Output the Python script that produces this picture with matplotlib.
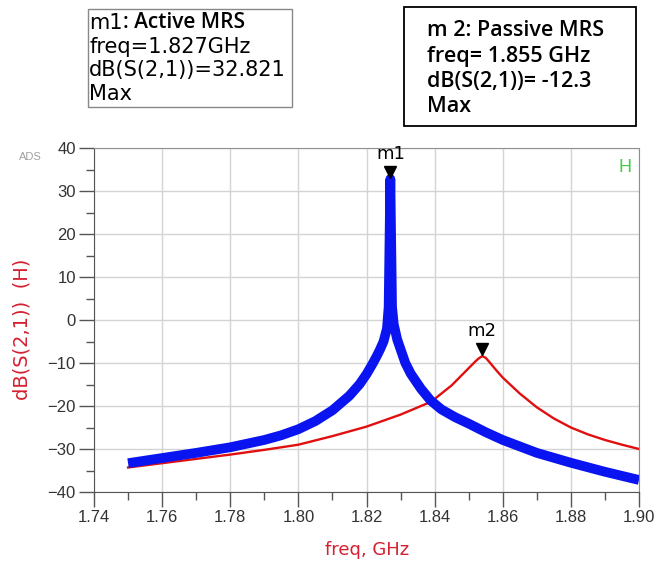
import numpy as np
import matplotlib
matplotlib.use('Agg')
import matplotlib.pyplot as plt
from matplotlib.ticker import MultipleLocator
from matplotlib.patches import Rectangle

# Active MRS (blue, thick)
freq_active = [1.750, 1.760, 1.770, 1.780, 1.790, 1.795, 1.800, 1.805, 1.810, 1.815,
               1.818, 1.820, 1.8217, 1.823, 1.824, 1.825, 1.826, 1.8265, 1.827, 1.8275,
               1.828, 1.829, 1.830, 1.8314, 1.833, 1.836, 1.8388, 1.842, 1.846, 1.850,
               1.855, 1.860, 1.870, 1.880, 1.890, 1.900]
db_active = [-33.3, -32.1, -30.9, -29.6, -27.9, -26.8, -25.4, -23.5, -21.0, -17.6,
             -14.9, -12.6, -10.3, -8.4, -6.8, -5.0, -2.0, 3.0, 32.8, 3.0,
             -1.0, -4.5, -6.8, -10.0, -12.5, -16.0, -18.7, -20.8, -22.6, -24.1,
             -26.1, -27.9, -30.9, -33.2, -35.3, -37.2]

# Passive MRS (red, thin)
freq_passive = [1.750, 1.760, 1.770, 1.780, 1.790, 1.800, 1.810, 1.820, 1.830, 1.839,
                1.845, 1.848, 1.850, 1.852, 1.853, 1.854, 1.855, 1.856, 1.858, 1.860,
                1.865, 1.870, 1.875, 1.880, 1.885, 1.890, 1.895, 1.900]
db_passive = [-34.3, -33.3, -32.3, -31.3, -30.2, -29.0, -27.0, -24.8, -22.0, -19.0,
              -15.2, -12.8, -11.2, -9.6, -8.9, -8.4, -8.8, -9.7, -11.6, -13.4,
              -17.1, -20.3, -22.9, -25.0, -26.6, -27.9, -29.0, -30.0]

m1 = (1.827, 32.8)
m2 = (1.854, -8.4)

plt.rcParams['font.family'] = ['Liberation Sans', 'DejaVu Sans']

W, H = 664, 567
fig = plt.figure(figsize=(W / 100, H / 100), dpi=100)
ax = fig.add_axes([94 / W, 1 - 492 / H, (639 - 94) / W, (492 - 148) / H])

ax.plot(freq_passive, db_passive, color='#e01010', lw=1.7, zorder=3)
ax.plot(freq_active, db_active, color='#0a14f0', lw=7, zorder=4,
        solid_joinstyle='round', solid_capstyle='butt')

# markers
for (fx, fy), name in [(m1, 'm1'), (m2, 'm2')]:
    ax.plot(fx, fy + 1.6, marker='v', color='black', ms=9, zorder=6)
    ax.text(fx, fy + 5.8, name, ha='center', va='center', fontsize=13,
            family='DejaVu Sans', zorder=6)

ax.set_xlim(1.74, 1.90)
ax.set_ylim(-40, 40)
ax.xaxis.set_major_locator(MultipleLocator(0.02))
ax.xaxis.set_minor_locator(MultipleLocator(0.01))
ax.yaxis.set_major_locator(MultipleLocator(10))
ax.yaxis.set_minor_locator(MultipleLocator(5))
ax.set_xticklabels([f'{v:.2f}' for v in ax.get_xticks()])
ax.grid(True, which='major', color='#d4d4d4', lw=1)
ax.tick_params(which='major', length=11, width=1, color='#555555', labelsize=12,
               labelcolor='#333333', pad=2)
ax.tick_params(which='minor', length=5.5, width=1, color='#555555')
for side in ['left', 'bottom']:
    ax.spines[side].set_color('#555555')
for side in ['top', 'right']:
    ax.spines[side].set_color('#909090')

fig.text(367 / W, 1 - 550 / H, 'freq, GHz', color='#d42030', fontsize=13,
         family='DejaVu Sans', ha='center', va='center')
fig.text(22 / W, 1 - 329 / H, 'dB(S(2,1))  (H)', color='#d42030', fontsize=14,
         family='DejaVu Sans', ha='center', va='center', rotation=90)

fig.text(30 / W, 1 - 157 / H, 'ADS', color='#a0a0a0', fontsize=8,
         ha='center', va='center')
fig.text(625 / W, 1 - 168 / H, 'H', color='#44cc44', fontsize=13,
         ha='center', va='center')

# marker readout boxes
fig.patches.append(Rectangle((88 / W, 1 - 107 / H), (292 - 88) / W, (107 - 9) / H,
                             transform=fig.transFigure, fc='white', ec='#888888', lw=1))
fig.patches.append(Rectangle((404 / W, 1 - 126 / H), (636 - 404) / W, (126 - 7) / H,
                             transform=fig.transFigure, fc='white', ec='black', lw=1.3))

box1_lines = ['freq=1.827GHz', 'dB(S(2,1))=32.821', 'Max']
fig.text(89 / W, 1 - 23 / H, 'm1', fontsize=15, family='DejaVu Sans', va='center')
fig.text(123 / W, 1 - 23 / H, ': Active MRS', fontsize=15, family='Open Sans',
         fontweight='semibold', va='center')
for i, line in enumerate(box1_lines):
    fig.text(89 / W, 1 - (47 + 23.3 * i) / H, line, fontsize=15,
             family='DejaVu Sans', va='center')

box2_lines = ['m 2: Passive MRS', 'freq= 1.855 GHz', 'dB(S(2,1))= -12.3', 'Max']
for i, line in enumerate(box2_lines):
    fig.text(427 / W, 1 - (31 + 25.3 * i) / H, line, fontsize=15.5,
             family='Open Sans', fontweight='semibold', va='center')

fig.savefig('out.png', dpi=100)
